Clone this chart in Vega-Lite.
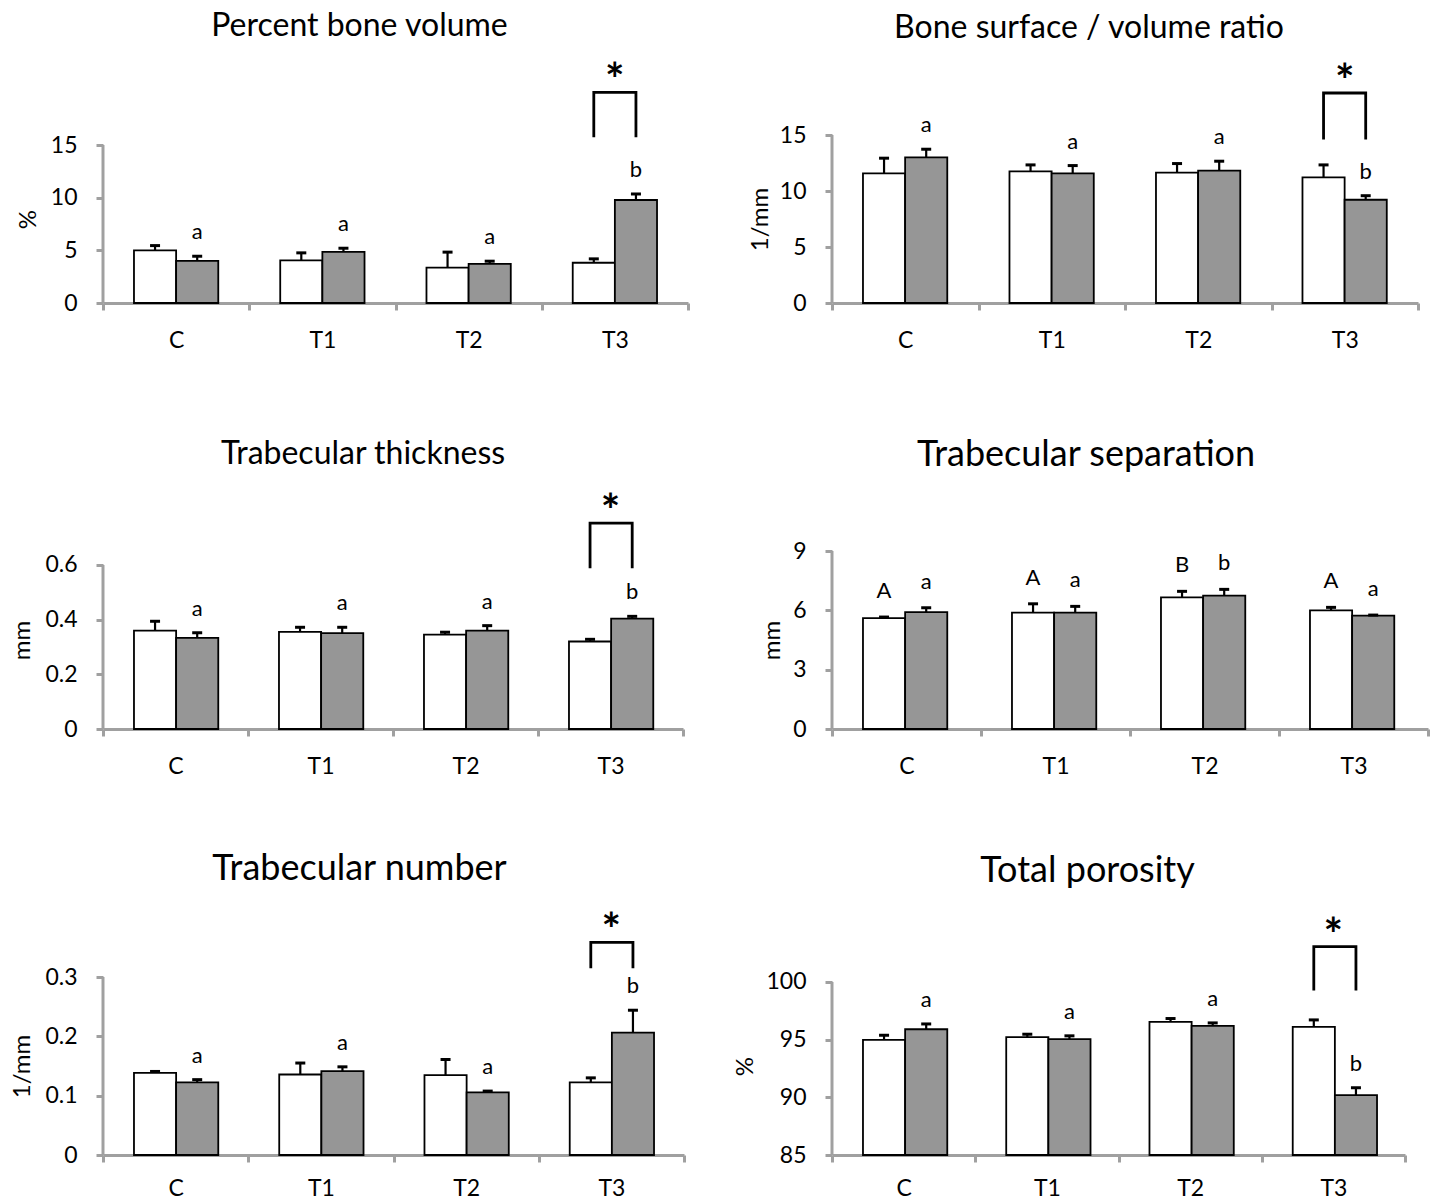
{
  "$schema": "https://vega.github.io/schema/vega-lite/v6.json",
  "background": "white",
  "padding": {"left": 10, "top": 10, "right": 5, "bottom": 5},
  "config": {
    "font": "Lato",
    "view": {"stroke": null},
    "title": {"font": "Lato", "fontWeight": "normal", "color": "#000000", "frame": "group", "anchor": "middle", "baseline": "alphabetic"},
    "axis": {"labelFont": "Lato", "labelFontSize": 23, "labelColor": "#000000", "titleFont": "Lato", "titleFontSize": 24, "titleFontWeight": "normal", "titleColor": "#000000", "tickColor": "#a0a0a0", "tickWidth": 3, "tickSize": 7, "domainColor": "#a0a0a0", "domainWidth": 3, "grid": false},
    "axisX": {"tickBand": "extent", "labelPadding": 19, "labelAngle": 0},
    "axisY": {"domain": false, "labelPadding": 19, "titleBaseline": "middle", "titleAngle": -90}
  },
  "datasets": {
    "bars": [
      {"p": "BV", "cat": "C", "grp": "g1", "v": 5.0, "up": 5.45, "lab": ""},
      {"p": "BV", "cat": "C", "grp": "g2", "v": 4.0, "up": 4.44, "lab": "a"},
      {"p": "BV", "cat": "T1", "grp": "g1", "v": 4.05, "up": 4.76, "lab": ""},
      {"p": "BV", "cat": "T1", "grp": "g2", "v": 4.86, "up": 5.2, "lab": "a"},
      {"p": "BV", "cat": "T2", "grp": "g1", "v": 3.35, "up": 4.83, "lab": ""},
      {"p": "BV", "cat": "T2", "grp": "g2", "v": 3.72, "up": 3.97, "lab": "a"},
      {"p": "BV", "cat": "T3", "grp": "g1", "v": 3.82, "up": 4.19, "lab": ""},
      {"p": "BV", "cat": "T3", "grp": "g2", "v": 9.78, "up": 10.35, "lab": "b"},
      {"p": "BS", "cat": "C", "grp": "g1", "v": 11.58, "up": 12.93, "lab": ""},
      {"p": "BS", "cat": "C", "grp": "g2", "v": 13.0, "up": 13.73, "lab": "a"},
      {"p": "BS", "cat": "T1", "grp": "g1", "v": 11.76, "up": 12.33, "lab": ""},
      {"p": "BS", "cat": "T1", "grp": "g2", "v": 11.58, "up": 12.27, "lab": "a"},
      {"p": "BS", "cat": "T2", "grp": "g1", "v": 11.64, "up": 12.45, "lab": ""},
      {"p": "BS", "cat": "T2", "grp": "g2", "v": 11.82, "up": 12.66, "lab": "a"},
      {"p": "BS", "cat": "T3", "grp": "g1", "v": 11.22, "up": 12.33, "lab": ""},
      {"p": "BS", "cat": "T3", "grp": "g2", "v": 9.22, "up": 9.58, "lab": "b"},
      {"p": "TbTh", "cat": "C", "grp": "g1", "v": 0.36, "up": 0.394, "lab": ""},
      {"p": "TbTh", "cat": "C", "grp": "g2", "v": 0.333, "up": 0.352, "lab": "a"},
      {"p": "TbTh", "cat": "T1", "grp": "g1", "v": 0.355, "up": 0.372, "lab": ""},
      {"p": "TbTh", "cat": "T1", "grp": "g2", "v": 0.351, "up": 0.372, "lab": "a"},
      {"p": "TbTh", "cat": "T2", "grp": "g1", "v": 0.345, "up": 0.354, "lab": ""},
      {"p": "TbTh", "cat": "T2", "grp": "g2", "v": 0.36, "up": 0.378, "lab": "a"},
      {"p": "TbTh", "cat": "T3", "grp": "g1", "v": 0.32, "up": 0.328, "lab": ""},
      {"p": "TbTh", "cat": "T3", "grp": "g2", "v": 0.404, "up": 0.412, "lab": "b"},
      {"p": "TbSp", "cat": "C", "grp": "g1", "v": 5.61, "up": 5.66, "lab": "A"},
      {"p": "TbSp", "cat": "C", "grp": "g2", "v": 5.91, "up": 6.13, "lab": "a"},
      {"p": "TbSp", "cat": "T1", "grp": "g1", "v": 5.88, "up": 6.33, "lab": "A"},
      {"p": "TbSp", "cat": "T1", "grp": "g2", "v": 5.88, "up": 6.2, "lab": "a"},
      {"p": "TbSp", "cat": "T2", "grp": "g1", "v": 6.66, "up": 6.96, "lab": "B"},
      {"p": "TbSp", "cat": "T2", "grp": "g2", "v": 6.74, "up": 7.06, "lab": "b"},
      {"p": "TbSp", "cat": "T3", "grp": "g1", "v": 6.0, "up": 6.15, "lab": "A"},
      {"p": "TbSp", "cat": "T3", "grp": "g2", "v": 5.73, "up": 5.76, "lab": "a"},
      {"p": "TbN", "cat": "C", "grp": "g1", "v": 0.1385, "up": 0.1408, "lab": ""},
      {"p": "TbN", "cat": "C", "grp": "g2", "v": 0.1223, "up": 0.127, "lab": "a"},
      {"p": "TbN", "cat": "T1", "grp": "g1", "v": 0.1357, "up": 0.155, "lab": ""},
      {"p": "TbN", "cat": "T1", "grp": "g2", "v": 0.1413, "up": 0.1486, "lab": "a"},
      {"p": "TbN", "cat": "T2", "grp": "g1", "v": 0.1346, "up": 0.161, "lab": ""},
      {"p": "TbN", "cat": "T2", "grp": "g2", "v": 0.1054, "up": 0.1077, "lab": "a"},
      {"p": "TbN", "cat": "T3", "grp": "g1", "v": 0.1223, "up": 0.13, "lab": ""},
      {"p": "TbN", "cat": "T3", "grp": "g2", "v": 0.2064, "up": 0.244, "lab": "b"},
      {"p": "Po", "cat": "C", "grp": "g1", "v": 94.98, "up": 95.38, "lab": ""},
      {"p": "Po", "cat": "C", "grp": "g2", "v": 95.9, "up": 96.36, "lab": "a"},
      {"p": "Po", "cat": "T1", "grp": "g1", "v": 95.21, "up": 95.47, "lab": ""},
      {"p": "Po", "cat": "T1", "grp": "g2", "v": 95.04, "up": 95.33, "lab": "a"},
      {"p": "Po", "cat": "T2", "grp": "g1", "v": 96.54, "up": 96.83, "lab": ""},
      {"p": "Po", "cat": "T2", "grp": "g2", "v": 96.19, "up": 96.45, "lab": "a"},
      {"p": "Po", "cat": "T3", "grp": "g1", "v": 96.1, "up": 96.71, "lab": ""},
      {"p": "Po", "cat": "T3", "grp": "g2", "v": 90.19, "up": 90.83, "lab": "b"}
    ],
    "brk": [
      {"p": "BV", "cat": "T3", "grp": "g1", "y": 15.74, "o": 1},
      {"p": "BV", "cat": "T3", "grp": "g1", "y": 20.0, "o": 2},
      {"p": "BV", "cat": "T3", "grp": "g2", "y": 20.0, "o": 3},
      {"p": "BV", "cat": "T3", "grp": "g2", "y": 15.74, "o": 4},
      {"p": "BS", "cat": "T3", "grp": "g1", "y": 14.6, "o": 1},
      {"p": "BS", "cat": "T3", "grp": "g1", "y": 18.75, "o": 2},
      {"p": "BS", "cat": "T3", "grp": "g2", "y": 18.75, "o": 3},
      {"p": "BS", "cat": "T3", "grp": "g2", "y": 14.6, "o": 4},
      {"p": "TbTh", "cat": "T3", "grp": "g1", "y": 0.588, "o": 1},
      {"p": "TbTh", "cat": "T3", "grp": "g1", "y": 0.753, "o": 2},
      {"p": "TbTh", "cat": "T3", "grp": "g2", "y": 0.753, "o": 3},
      {"p": "TbTh", "cat": "T3", "grp": "g2", "y": 0.588, "o": 4},
      {"p": "TbN", "cat": "T3", "grp": "g1", "y": 0.3147, "o": 1},
      {"p": "TbN", "cat": "T3", "grp": "g1", "y": 0.3585, "o": 2},
      {"p": "TbN", "cat": "T3", "grp": "g2", "y": 0.3585, "o": 3},
      {"p": "TbN", "cat": "T3", "grp": "g2", "y": 0.3147, "o": 4},
      {"p": "Po", "cat": "T3", "grp": "g1", "y": 99.25, "o": 1},
      {"p": "Po", "cat": "T3", "grp": "g1", "y": 103.06, "o": 2},
      {"p": "Po", "cat": "T3", "grp": "g2", "y": 103.06, "o": 3},
      {"p": "Po", "cat": "T3", "grp": "g2", "y": 99.25, "o": 4}
    ],
    "star": [
      {"p": "BV", "cat": "T3", "y": 20.0},
      {"p": "BS", "cat": "T3", "y": 18.75},
      {"p": "TbTh", "cat": "T3", "y": 0.753},
      {"p": "TbN", "cat": "T3", "y": 0.3585},
      {"p": "Po", "cat": "T3", "y": 103.06}
    ]
  },
  "bounds": "flush",
  "spacing": 729,
  "hconcat": [
    {
      "bounds": "flush",
      "spacing": 248,
      "vconcat": [
        {
          "width": 585, "height": 168,
          "title": {"text": "Percent bone volume", "fontSize": 32, "dx": -36, "offset": 16},
          "layer": [
            {"data": {"name": "bars"}, "transform": [{"filter": "datum.p === 'BV'"}],
             "mark": {"type": "bar", "stroke": "#000000", "strokeWidth": 1.8},
             "encoding": {
               "x": {"field": "cat", "type": "nominal", "scale": {"paddingInner": 0, "paddingOuter": 0}, "axis": {"title": null}},
               "xOffset": {"field": "grp", "type": "nominal", "scale": {"paddingInner": 0, "paddingOuter": 0.735}},
               "y": {"field": "v", "type": "quantitative", "scale": {"domain": [0, 15.95], "nice": false, "zero": false}, "axis": {"title": "%", "values": [0, 5, 10, 15], "titleX": -75}},
               "y2": {"datum": 0},
               "color": {"field": "grp", "type": "nominal", "scale": {"domain": ["g1", "g2"], "range": ["#ffffff", "#969696"]}, "legend": null}
             }},
            {"data": {"name": "bars"}, "transform": [{"filter": "datum.p === 'BV'"}],
             "mark": {"type": "rule", "color": "#000000", "strokeWidth": 2.2},
             "encoding": {"x": {"field": "cat", "type": "nominal"}, "xOffset": {"field": "grp", "type": "nominal"}, "y": {"field": "v", "type": "quantitative"}, "y2": {"field": "up"}}},
            {"data": {"name": "bars"}, "transform": [{"filter": "datum.p === 'BV'"}],
             "mark": {"type": "tick", "color": "#000000", "size": 10, "thickness": 3, "opacity": 1},
             "encoding": {"x": {"field": "cat", "type": "nominal"}, "xOffset": {"field": "grp", "type": "nominal"}, "y": {"field": "up", "type": "quantitative"}}},
            {"data": {"name": "bars"}, "transform": [{"filter": "datum.p === 'BV'"}],
             "mark": {"type": "text", "fontSize": 22, "baseline": "alphabetic", "dy": -17, "color": "#000000"},
             "encoding": {"x": {"field": "cat", "type": "nominal"}, "xOffset": {"field": "grp", "type": "nominal"}, "y": {"field": "up", "type": "quantitative"}, "text": {"field": "lab"}}},
            {"data": {"name": "brk"}, "transform": [{"filter": "datum.p === 'BV'"}],
             "mark": {"type": "line", "color": "#000000", "strokeWidth": 2.8, "strokeJoin": "miter"},
             "encoding": {"x": {"field": "cat", "type": "nominal"}, "xOffset": {"field": "grp", "type": "nominal"}, "y": {"field": "y", "type": "quantitative"}, "order": {"field": "o"}}},
            {"data": {"name": "star"}, "transform": [{"filter": "datum.p === 'BV'"}],
             "mark": {"type": "text", "fontSize": 46, "fontWeight": "bold", "baseline": "alphabetic", "dy": 4, "color": "#000000"},
             "encoding": {"x": {"field": "cat", "type": "nominal"}, "y": {"field": "y", "type": "quantitative"}, "text": {"value": "*"}}},
            {"data": {"values": [{"k": 1}]},
             "mark": {"type": "rule", "color": "#a0a0a0", "strokeWidth": 3},
             "encoding": {"x": {"datum": "C", "type": "nominal", "bandPosition": 0}, "y": {"datum": 0, "type": "quantitative"}, "y2": {"datum": 15}}}
          ]
        },
        {
          "width": 580, "height": 178,
          "title": {"text": "Trabecular thickness", "fontSize": 32, "dx": -30, "offset": 19},
          "layer": [
            {"data": {"name": "bars"}, "transform": [{"filter": "datum.p === 'TbTh'"}],
             "mark": {"type": "bar", "stroke": "#000000", "strokeWidth": 1.8},
             "encoding": {
               "x": {"field": "cat", "type": "nominal", "scale": {"paddingInner": 0, "paddingOuter": 0}, "axis": {"title": null}},
               "xOffset": {"field": "grp", "type": "nominal", "scale": {"paddingInner": 0, "paddingOuter": 0.735}},
               "y": {"field": "v", "type": "quantitative", "scale": {"domain": [0, 0.651], "nice": false, "zero": false}, "axis": {"title": "mm", "values": [0, 0.2, 0.4, 0.6], "format": ".1~f", "titleX": -81}},
               "y2": {"datum": 0},
               "color": {"field": "grp", "type": "nominal", "scale": {"domain": ["g1", "g2"], "range": ["#ffffff", "#969696"]}, "legend": null}
             }},
            {"data": {"name": "bars"}, "transform": [{"filter": "datum.p === 'TbTh'"}],
             "mark": {"type": "rule", "color": "#000000", "strokeWidth": 2.2},
             "encoding": {"x": {"field": "cat", "type": "nominal"}, "xOffset": {"field": "grp", "type": "nominal"}, "y": {"field": "v", "type": "quantitative"}, "y2": {"field": "up"}}},
            {"data": {"name": "bars"}, "transform": [{"filter": "datum.p === 'TbTh'"}],
             "mark": {"type": "tick", "color": "#000000", "size": 10, "thickness": 3, "opacity": 1},
             "encoding": {"x": {"field": "cat", "type": "nominal"}, "xOffset": {"field": "grp", "type": "nominal"}, "y": {"field": "up", "type": "quantitative"}}},
            {"data": {"name": "bars"}, "transform": [{"filter": "datum.p === 'TbTh'"}],
             "mark": {"type": "text", "fontSize": 22, "baseline": "alphabetic", "dy": -17, "color": "#000000"},
             "encoding": {"x": {"field": "cat", "type": "nominal"}, "xOffset": {"field": "grp", "type": "nominal"}, "y": {"field": "up", "type": "quantitative"}, "text": {"field": "lab"}}},
            {"data": {"name": "brk"}, "transform": [{"filter": "datum.p === 'TbTh'"}],
             "mark": {"type": "line", "color": "#000000", "strokeWidth": 2.8, "strokeJoin": "miter"},
             "encoding": {"x": {"field": "cat", "type": "nominal"}, "xOffset": {"field": "grp", "type": "nominal"}, "y": {"field": "y", "type": "quantitative"}, "order": {"field": "o"}}},
            {"data": {"name": "star"}, "transform": [{"filter": "datum.p === 'TbTh'"}],
             "mark": {"type": "text", "fontSize": 46, "fontWeight": "bold", "baseline": "alphabetic", "dy": 4, "color": "#000000"},
             "encoding": {"x": {"field": "cat", "type": "nominal"}, "y": {"field": "y", "type": "quantitative"}, "text": {"value": "*"}}},
            {"data": {"values": [{"k": 1}]},
             "mark": {"type": "rule", "color": "#a0a0a0", "strokeWidth": 3},
             "encoding": {"x": {"datum": "C", "type": "nominal", "bandPosition": 0}, "y": {"datum": 0, "type": "quantitative"}, "y2": {"datum": 0.6}}}
          ]
        },
        {
          "width": 581, "height": 178,
          "title": {"text": "Trabecular number", "fontSize": 36, "dx": -34, "offset": 21},
          "layer": [
            {"data": {"name": "bars"}, "transform": [{"filter": "datum.p === 'TbN'"}],
             "mark": {"type": "bar", "stroke": "#000000", "strokeWidth": 1.8},
             "encoding": {
               "x": {"field": "cat", "type": "nominal", "scale": {"paddingInner": 0, "paddingOuter": 0}, "axis": {"title": null, "labelPadding": 15}},
               "xOffset": {"field": "grp", "type": "nominal", "scale": {"paddingInner": 0, "paddingOuter": 0.735}},
               "y": {"field": "v", "type": "quantitative", "scale": {"domain": [0, 0.3], "nice": false, "zero": false}, "axis": {"title": "1/mm", "values": [0, 0.1, 0.2, 0.3], "format": ".1~f", "titleX": -81}},
               "y2": {"datum": 0},
               "color": {"field": "grp", "type": "nominal", "scale": {"domain": ["g1", "g2"], "range": ["#ffffff", "#969696"]}, "legend": null}
             }},
            {"data": {"name": "bars"}, "transform": [{"filter": "datum.p === 'TbN'"}],
             "mark": {"type": "rule", "color": "#000000", "strokeWidth": 2.2},
             "encoding": {"x": {"field": "cat", "type": "nominal"}, "xOffset": {"field": "grp", "type": "nominal"}, "y": {"field": "v", "type": "quantitative"}, "y2": {"field": "up"}}},
            {"data": {"name": "bars"}, "transform": [{"filter": "datum.p === 'TbN'"}],
             "mark": {"type": "tick", "color": "#000000", "size": 10, "thickness": 3, "opacity": 1},
             "encoding": {"x": {"field": "cat", "type": "nominal"}, "xOffset": {"field": "grp", "type": "nominal"}, "y": {"field": "up", "type": "quantitative"}}},
            {"data": {"name": "bars"}, "transform": [{"filter": "datum.p === 'TbN'"}],
             "mark": {"type": "text", "fontSize": 22, "baseline": "alphabetic", "dy": -17, "color": "#000000"},
             "encoding": {"x": {"field": "cat", "type": "nominal"}, "xOffset": {"field": "grp", "type": "nominal"}, "y": {"field": "up", "type": "quantitative"}, "text": {"field": "lab"}}},
            {"data": {"name": "brk"}, "transform": [{"filter": "datum.p === 'TbN'"}],
             "mark": {"type": "line", "color": "#000000", "strokeWidth": 2.8, "strokeJoin": "miter"},
             "encoding": {"x": {"field": "cat", "type": "nominal"}, "xOffset": {"field": "grp", "type": "nominal"}, "y": {"field": "y", "type": "quantitative"}, "order": {"field": "o"}}},
            {"data": {"name": "star"}, "transform": [{"filter": "datum.p === 'TbN'"}],
             "mark": {"type": "text", "fontSize": 46, "fontWeight": "bold", "baseline": "alphabetic", "dy": 4, "color": "#000000"},
             "encoding": {"x": {"field": "cat", "type": "nominal"}, "y": {"field": "y", "type": "quantitative"}, "text": {"value": "*"}}},
            {"data": {"values": [{"k": 1}]},
             "mark": {"type": "rule", "color": "#a0a0a0", "strokeWidth": 3},
             "encoding": {"x": {"datum": "C", "type": "nominal", "bandPosition": 0}, "y": {"datum": 0, "type": "quantitative"}, "y2": {"datum": 0.3}}}
          ]
        }
      ]
    },
    {
      "bounds": "flush",
      "spacing": 248,
      "vconcat": [
        {
          "width": 586, "height": 168,
          "title": {"text": "Bone surface / volume ratio", "fontSize": 32, "dx": -36, "offset": 15},
          "layer": [
            {"data": {"name": "bars"}, "transform": [{"filter": "datum.p === 'BS'"}],
             "mark": {"type": "bar", "stroke": "#000000", "strokeWidth": 1.8},
             "encoding": {
               "x": {"field": "cat", "type": "nominal", "scale": {"paddingInner": 0, "paddingOuter": 0}, "axis": {"title": null}},
               "xOffset": {"field": "grp", "type": "nominal", "scale": {"paddingInner": 0, "paddingOuter": 0.735}},
               "y": {"field": "v", "type": "quantitative", "scale": {"domain": [0, 15], "nice": false, "zero": false}, "axis": {"title": "1/mm", "values": [0, 5, 10, 15], "titleX": -72}},
               "y2": {"datum": 0},
               "color": {"field": "grp", "type": "nominal", "scale": {"domain": ["g1", "g2"], "range": ["#ffffff", "#969696"]}, "legend": null}
             }},
            {"data": {"name": "bars"}, "transform": [{"filter": "datum.p === 'BS'"}],
             "mark": {"type": "rule", "color": "#000000", "strokeWidth": 2.2},
             "encoding": {"x": {"field": "cat", "type": "nominal"}, "xOffset": {"field": "grp", "type": "nominal"}, "y": {"field": "v", "type": "quantitative"}, "y2": {"field": "up"}}},
            {"data": {"name": "bars"}, "transform": [{"filter": "datum.p === 'BS'"}],
             "mark": {"type": "tick", "color": "#000000", "size": 10, "thickness": 3, "opacity": 1},
             "encoding": {"x": {"field": "cat", "type": "nominal"}, "xOffset": {"field": "grp", "type": "nominal"}, "y": {"field": "up", "type": "quantitative"}}},
            {"data": {"name": "bars"}, "transform": [{"filter": "datum.p === 'BS'"}],
             "mark": {"type": "text", "fontSize": 22, "baseline": "alphabetic", "dy": -17, "color": "#000000"},
             "encoding": {"x": {"field": "cat", "type": "nominal"}, "xOffset": {"field": "grp", "type": "nominal"}, "y": {"field": "up", "type": "quantitative"}, "text": {"field": "lab"}}},
            {"data": {"name": "brk"}, "transform": [{"filter": "datum.p === 'BS'"}],
             "mark": {"type": "line", "color": "#000000", "strokeWidth": 2.8, "strokeJoin": "miter"},
             "encoding": {"x": {"field": "cat", "type": "nominal"}, "xOffset": {"field": "grp", "type": "nominal"}, "y": {"field": "y", "type": "quantitative"}, "order": {"field": "o"}}},
            {"data": {"name": "star"}, "transform": [{"filter": "datum.p === 'BS'"}],
             "mark": {"type": "text", "fontSize": 46, "fontWeight": "bold", "baseline": "alphabetic", "dy": 4, "color": "#000000"},
             "encoding": {"x": {"field": "cat", "type": "nominal"}, "y": {"field": "y", "type": "quantitative"}, "text": {"value": "*"}}},
            {"data": {"values": [{"k": 1}]},
             "mark": {"type": "rule", "color": "#a0a0a0", "strokeWidth": 3},
             "encoding": {"x": {"datum": "C", "type": "nominal", "bandPosition": 0}, "y": {"datum": 0, "type": "quantitative"}, "y2": {"datum": 15}}}
          ]
        },
        {
          "width": 596, "height": 178,
          "title": {"text": "Trabecular separation", "fontSize": 36, "dx": -44, "offset": 66},
          "layer": [
            {"data": {"name": "bars"}, "transform": [{"filter": "datum.p === 'TbSp'"}],
             "mark": {"type": "bar", "stroke": "#000000", "strokeWidth": 1.8},
             "encoding": {
               "x": {"field": "cat", "type": "nominal", "scale": {"paddingInner": 0, "paddingOuter": 0}, "axis": {"title": null}},
               "xOffset": {"field": "grp", "type": "nominal", "scale": {"paddingInner": 0, "paddingOuter": 0.735}},
               "y": {"field": "v", "type": "quantitative", "scale": {"domain": [0, 9], "nice": false, "zero": false}, "axis": {"title": "mm", "values": [0, 3, 6, 9], "titleX": -60}},
               "y2": {"datum": 0},
               "color": {"field": "grp", "type": "nominal", "scale": {"domain": ["g1", "g2"], "range": ["#ffffff", "#969696"]}, "legend": null}
             }},
            {"data": {"name": "bars"}, "transform": [{"filter": "datum.p === 'TbSp'"}],
             "mark": {"type": "rule", "color": "#000000", "strokeWidth": 2.2},
             "encoding": {"x": {"field": "cat", "type": "nominal"}, "xOffset": {"field": "grp", "type": "nominal"}, "y": {"field": "v", "type": "quantitative"}, "y2": {"field": "up"}}},
            {"data": {"name": "bars"}, "transform": [{"filter": "datum.p === 'TbSp'"}],
             "mark": {"type": "tick", "color": "#000000", "size": 10, "thickness": 3, "opacity": 1},
             "encoding": {"x": {"field": "cat", "type": "nominal"}, "xOffset": {"field": "grp", "type": "nominal"}, "y": {"field": "up", "type": "quantitative"}}},
            {"data": {"name": "bars"}, "transform": [{"filter": "datum.p === 'TbSp'"}],
             "mark": {"type": "text", "fontSize": 22, "baseline": "alphabetic", "dy": -19, "color": "#000000"},
             "encoding": {"x": {"field": "cat", "type": "nominal"}, "xOffset": {"field": "grp", "type": "nominal"}, "y": {"field": "up", "type": "quantitative"}, "text": {"field": "lab"}}},
            {"data": {"values": [{"k": 1}]},
             "mark": {"type": "rule", "color": "#a0a0a0", "strokeWidth": 3},
             "encoding": {"x": {"datum": "C", "type": "nominal", "bandPosition": 0}, "y": {"datum": 0, "type": "quantitative"}, "y2": {"datum": 9}}}
          ]
        },
        {
          "width": 573, "height": 178,
          "title": {"text": "Total porosity", "fontSize": 36, "dx": -31, "offset": 24},
          "layer": [
            {"data": {"name": "bars"}, "transform": [{"filter": "datum.p === 'Po'"}],
             "mark": {"type": "bar", "stroke": "#000000", "strokeWidth": 1.8},
             "encoding": {
               "x": {"field": "cat", "type": "nominal", "scale": {"paddingInner": 0, "paddingOuter": 0}, "axis": {"title": null, "labelPadding": 15}},
               "xOffset": {"field": "grp", "type": "nominal", "scale": {"paddingInner": 0, "paddingOuter": 0.735}},
               "y": {"field": "v", "type": "quantitative", "scale": {"domain": [85, 100.43], "nice": false, "zero": false}, "axis": {"title": "%", "values": [85, 90, 95, 100], "titleX": -87}},
               "y2": {"datum": 85},
               "color": {"field": "grp", "type": "nominal", "scale": {"domain": ["g1", "g2"], "range": ["#ffffff", "#969696"]}, "legend": null}
             }},
            {"data": {"name": "bars"}, "transform": [{"filter": "datum.p === 'Po'"}],
             "mark": {"type": "rule", "color": "#000000", "strokeWidth": 2.2},
             "encoding": {"x": {"field": "cat", "type": "nominal"}, "xOffset": {"field": "grp", "type": "nominal"}, "y": {"field": "v", "type": "quantitative"}, "y2": {"field": "up"}}},
            {"data": {"name": "bars"}, "transform": [{"filter": "datum.p === 'Po'"}],
             "mark": {"type": "tick", "color": "#000000", "size": 10, "thickness": 3, "opacity": 1},
             "encoding": {"x": {"field": "cat", "type": "nominal"}, "xOffset": {"field": "grp", "type": "nominal"}, "y": {"field": "up", "type": "quantitative"}}},
            {"data": {"name": "bars"}, "transform": [{"filter": "datum.p === 'Po'"}],
             "mark": {"type": "text", "fontSize": 22, "baseline": "alphabetic", "dy": -17, "color": "#000000"},
             "encoding": {"x": {"field": "cat", "type": "nominal"}, "xOffset": {"field": "grp", "type": "nominal"}, "y": {"field": "up", "type": "quantitative"}, "text": {"field": "lab"}}},
            {"data": {"name": "brk"}, "transform": [{"filter": "datum.p === 'Po'"}],
             "mark": {"type": "line", "color": "#000000", "strokeWidth": 2.8, "strokeJoin": "miter"},
             "encoding": {"x": {"field": "cat", "type": "nominal"}, "xOffset": {"field": "grp", "type": "nominal"}, "y": {"field": "y", "type": "quantitative"}, "order": {"field": "o"}}},
            {"data": {"name": "star"}, "transform": [{"filter": "datum.p === 'Po'"}],
             "mark": {"type": "text", "fontSize": 46, "fontWeight": "bold", "baseline": "alphabetic", "dy": 4, "color": "#000000"},
             "encoding": {"x": {"field": "cat", "type": "nominal"}, "y": {"field": "y", "type": "quantitative"}, "text": {"value": "*"}}},
            {"data": {"values": [{"k": 1}]},
             "mark": {"type": "rule", "color": "#a0a0a0", "strokeWidth": 3},
             "encoding": {"x": {"datum": "C", "type": "nominal", "bandPosition": 0}, "y": {"datum": 85, "type": "quantitative"}, "y2": {"datum": 100}}}
          ]
        }
      ]
    }
  ]
}
